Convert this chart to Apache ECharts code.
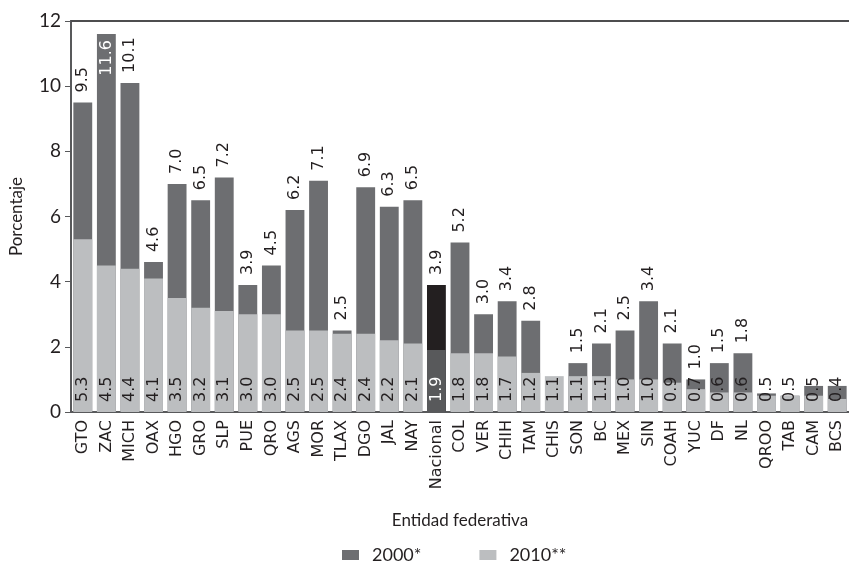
<!DOCTYPE html>
<html>
<head>
<meta charset="utf-8">
<script src="https://cdn.jsdelivr.net/npm/echarts@6/dist/echarts.min.js"></script>
<style>html,body{margin:0;padding:0;background:#fff}#c{width:849px;height:564px}</style>
</head>
<body>
<div id="c"></div>
<script>
const categories = ['GTO','ZAC','MICH','OAX','HGO','GRO','SLP','PUE','QRO','AGS','MOR','TLAX','DGO','JAL','NAY','Nacional','COL','VER','CHIH','TAM','CHIS','SON','BC','MEX','SIN','COAH','YUC','DF','NL','QROO','TAB','CAM','BCS'];
const values2000 = [9.5,11.6,10.1,4.6,7.0,6.5,7.2,3.9,4.5,6.2,7.1,2.5,6.9,6.3,6.5,3.9,5.2,3.0,3.4,2.8,null,1.5,2.1,2.5,3.4,2.1,1.0,1.5,1.8,0.57,0.5,0.8,0.8];
const values2010 = [5.3,4.5,4.4,4.1,3.5,3.2,3.1,3.0,3.0,2.5,2.5,2.4,2.4,2.2,2.1,1.9,1.8,1.8,1.7,1.2,1.1,1.1,1.1,1.0,1.0,0.9,0.7,0.6,0.6,0.5,0.5,0.5,0.4];
const unlabeled2000 = ['CHIS','QROO','TAB','CAM','BCS'];
const insideLabel2000 = ['ZAC'];
const yTicks = {min: 0, max: 12, interval: 2};

const TXT = '#231f20';
const C2000 = '#6d6e71', C2010 = '#bcbec0';
const CNAC2000 = '#231f20', CNAC2010 = '#58595b';
const fmt = p => (Math.round(p.value * 10) / 10).toFixed(1);

const data2000 = categories.map((c, i) => {
  const item = {value: values2000[i]};
  if (c === 'Nacional') item.itemStyle = {color: CNAC2000};
  if (unlabeled2000.includes(c)) item.label = {show: false};
  if (insideLabel2000.includes(c)) item.label = {position: 'insideTop', align: 'right', color: '#ffffff', distance: 6};
  return item;
});
const data2010 = categories.map((c, i) => {
  const item = {value: values2010[i]};
  if (c === 'Nacional') { item.itemStyle = {color: CNAC2010}; item.label = {color: '#ffffff'}; }
  return item;
});

const chart = echarts.init(document.getElementById('c'), null, {renderer: 'canvas'});
chart.setOption({
  animation: false,
  grid: {left: 67, top: 21, width: 786, height: 391, containLabel: false},
  legend: {
    left: 337, top: 541, itemWidth: 17, itemHeight: 10, itemGap: 58, icon: 'rect',
    textStyle: {fontFamily: 'Lato', fontSize: 18, color: TXT, padding: [0, 0, 0, 8]},
    data: ['2000*', '2010**']
  },
  xAxis: [{
    type: 'category', data: categories, position: 'bottom',
    axisLine: {show: true, lineStyle: {color: '#58595b', width: 2}},
    axisTick: {show: false},
    axisLabel: {rotate: 90, fontFamily: 'DejaVu Sans', fontSize: 16, color: TXT, margin: 8, interval: 0},
    name: 'Entidad federativa', nameLocation: 'middle', nameGap: 100,
    nameTextStyle: {fontFamily: 'Lato', fontSize: 17, color: TXT}
  }, {
    type: 'category', data: categories, position: 'top',
    axisLine: {show: true, lineStyle: {color: '#4d4d4f', width: 2}},
    axisTick: {show: false}, axisLabel: {show: false}
  }],
  yAxis: {
    type: 'value', min: yTicks.min, max: yTicks.max, interval: yTicks.interval,
    axisLine: {show: true, lineStyle: {color: '#58595b', width: 2}},
    axisTick: {show: true, length: 6, lineStyle: {color: '#58595b'}},
    splitLine: {show: false},
    axisLabel: {fontFamily: 'Lato', fontSize: 19, color: TXT, margin: 10},
    name: 'Porcentaje', nameLocation: 'middle', nameGap: 46,
    nameTextStyle: {fontFamily: 'Lato', fontSize: 17, color: TXT}
  },
  series: [{
    name: '2000*', type: 'bar', data: data2000, barCategoryGap: '20%',
    itemStyle: {color: C2000},
    label: {show: true, position: 'top', rotate: 90, align: 'left', verticalAlign: 'middle', distance: 10,
      fontFamily: 'DejaVu Sans', fontSize: 16, color: TXT, formatter: fmt}
  }, {
    name: '2010**', type: 'bar', data: data2010, barGap: '-100%', barCategoryGap: '20%',
    itemStyle: {color: C2010},
    label: {show: true, position: 'insideBottom', rotate: 90, align: 'left', verticalAlign: 'middle', distance: 10,
      fontFamily: 'DejaVu Sans', fontSize: 16, color: TXT, formatter: fmt}
  }]
});
</script>
</body>
</html>
